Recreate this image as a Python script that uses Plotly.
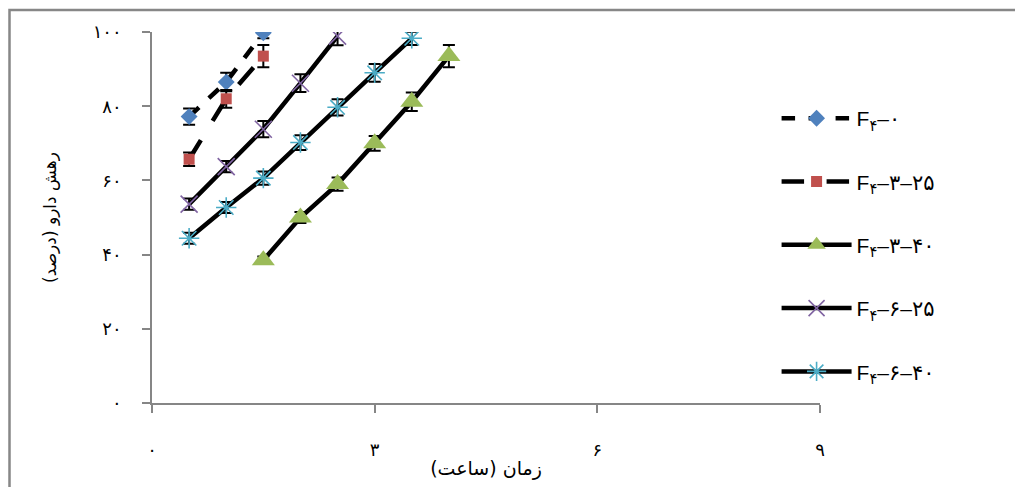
import plotly.graph_objects as go

# ---- data (time in hours, release in %) ----
names = ["F<sub>۴</sub>–۰", "F<sub>۴</sub>–۳–۲۵", "F<sub>۴</sub>–۳–۴۰", "F<sub>۴</sub>–۶–۲۵", "F<sub>۴</sub>–۶–۴۰"]

t_f4_0 = [0.5, 1.0, 1.5]
r_f4_0 = [77.2, 86.5, 99.8]
e_f4_0 = [2.2, 2.5, 1.5]

t_f4_3_25 = [0.5, 1.0, 1.5]
r_f4_3_25 = [65.7, 82.0, 93.5]
e_f4_3_25 = [1.8, 2.4, 3.0]

t_f4_3_40 = [1.5, 2.0, 2.5, 3.0, 3.5, 4.0]
r_f4_3_40 = [38.5, 50.0, 59.0, 70.0, 81.2, 93.5]
e_f4_3_40 = [1.0, 1.5, 1.8, 2.0, 2.5, 3.0]

t_f4_6_25 = [0.5, 1.0, 1.5, 2.0, 2.5]
r_f4_6_25 = [53.6, 63.7, 73.8, 86.2, 98.9]
e_f4_6_25 = [1.5, 1.5, 2.2, 2.4, 2.5]

t_f4_6_40 = [0.5, 1.0, 1.5, 2.0, 2.5, 3.0, 3.5]
r_f4_6_40 = [44.4, 52.7, 60.6, 70.2, 79.7, 89.0, 98.3]
e_f4_6_40 = [1.5, 1.5, 1.8, 2.0, 2.2, 2.4, 1.8]

x_ticks = [0, 3, 6, 9]
x_tick_text = ["۰", "۳", "۶", "۹"]
y_ticks = [0, 20, 40, 60, 80, 100]
y_tick_text = ["۰", "۲۰", "۴۰", "۶۰", "۸۰", "۱۰۰"]

x_title = "زمان (ساعت)"
y_title = "رهش دارو (درصد)"

series = [
    (t_f4_0, r_f4_0, e_f4_0, "dash", "diamond", "#4F81BD", 13),
    (t_f4_3_25, r_f4_3_25, e_f4_3_25, "longdash", "square", "#C0504D", 11),
    (t_f4_3_40, r_f4_3_40, e_f4_3_40, "solid", "triangle-up", "#9BBB59", 20),
    (t_f4_6_25, r_f4_6_25, e_f4_6_25, "solid", "x-thin-open", "#8064A2", 17),
    (t_f4_6_40, r_f4_6_40, e_f4_6_40, "solid", "asterisk-open", "#4BACC6", 17),
]

fig = go.Figure()
for i, (tx, ry, ee, dash, sym, col, sz) in enumerate(series):
    open_sym = sym.endswith("open")
    fig.add_trace(go.Scatter(
        x=tx, y=ry, name=names[i], mode="lines+markers",
        legendgroup=f"g{i}",
        line=dict(color="black", width=4.5, dash=dash),
        marker=dict(symbol=sym, color=col, size=sz,
                    line=dict(color=col, width=1.6 if open_sym else 0)),
        error_y=dict(type="data", array=ee, visible=True, color="black",
                     thickness=2, width=6),
    ))

# page has an 8px body margin, so figure is sized to fit the window
W, H = 1015, 479
ml, mr, mt, mb = 144, 203, 24, 84
pw, ph = W - ml - mr, H - mt - mb

# outer chart border (partially cropped on right/bottom like the reference)
fig.add_shape(type="rect", xref="paper", yref="paper",
              x0=(1.5 - ml) / pw, x1=(1040 - ml) / pw,
              y0=-(500 - (H - mb)) / ph, y1=1 + (mt - 2) / ph,
              line=dict(color="#878787", width=2.5), fillcolor="rgba(0,0,0,0)", layer="below")

axis_font = dict(family="DejaVu Sans", size=18, color="black")
fig.update_layout(
    width=W, height=H,
    margin=dict(l=ml, r=mr, t=mt, b=mb),
    paper_bgcolor="white", plot_bgcolor="white",
    showlegend=True,
    legend=dict(x=0.935, xanchor="left", y=0.822, yanchor="top",
                font=dict(family="Liberation Sans, DejaVu Sans", size=21, color="black"),
                tracegroupgap=33, itemwidth=70, bgcolor="rgba(0,0,0,0)"),
    xaxis=dict(range=[0, 9], tickvals=x_ticks, ticktext=x_tick_text,
               showgrid=False, zeroline=False, showline=True, linecolor="#868686", linewidth=1.5,
               ticks="outside", ticklen=8, tickcolor="#868686", tickwidth=1.5,
               ticklabelstandoff=22, tickfont=axis_font,
               title=dict(text=x_title, font=dict(family="DejaVu Sans", size=19, color="black"), standoff=2)),
    yaxis=dict(range=[0, 100], tickvals=y_ticks, ticktext=y_tick_text,
               showgrid=False, zeroline=False, showline=True, linecolor="#868686", linewidth=1.5,
               ticks="outside", ticklen=8, tickcolor="#868686", tickwidth=1.5,
               ticklabelstandoff=17, tickfont=axis_font,
               title=dict(text=y_title, font=dict(family="DejaVu Sans", size=17, color="black"), standoff=32)),
)

fig.write_html("out.html")
